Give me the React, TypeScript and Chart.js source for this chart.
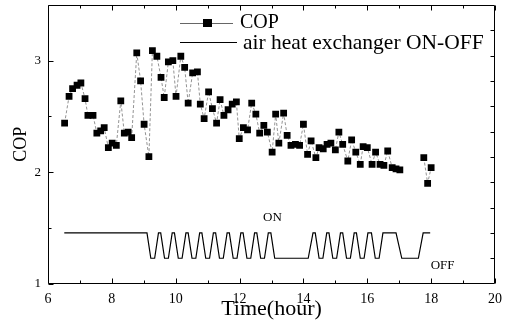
import { useEffect, useRef } from 'react';
import { Chart, registerables } from 'chart.js';

Chart.register(...registerables);

// COP measurements (time in hours, COP value); null marks the gap in the record
const copTime = [
  6.52, 6.66, 6.77, 6.91, 7.03, 7.16, 7.25, 7.41, 7.53, 7.65,
  7.76, 7.89, 8.01, 8.14, 8.28, 8.39, 8.51, 8.62, 8.78, 8.9,
  9.01, 9.16, 9.27, 9.41, 9.54, 9.64, 9.77, 9.91, 10.01, 10.16,
  10.28, 10.39, 10.53, 10.68, 10.77, 10.89, 11.03, 11.15, 11.28, 11.39,
  11.51, 11.64, 11.77, 11.9, 11.99, 12.12, 12.25, 12.38, 12.51, 12.63,
  12.76, 12.87, 13.02, 13.13, 13.23, 13.38, 13.49, 13.61, 13.75, 13.88,
  14.0, 14.13, 14.24, 14.39, 14.49, 14.62, 14.74, 14.86, 15.0, 15.11,
  15.23, 15.39, 15.51, 15.64, 15.78, 15.87, 16.0, 16.15, 16.26, 16.4,
  16.52, 16.64, 16.78, 16.9, 17.02,
  17.4,
  17.77, 17.89, 18.0,
];
const copValue: (number | null)[] = [
  2.44, 2.68, 2.75, 2.78, 2.8, 2.66, 2.51, 2.51, 2.35, 2.37,
  2.4, 2.22, 2.26, 2.24, 2.64, 2.35, 2.36, 2.31, 3.07, 2.82,
  2.43, 2.14, 3.09, 3.04, 2.85, 2.67, 2.99, 3.0, 2.68, 3.04,
  2.94, 2.62, 2.89, 2.9, 2.61, 2.48, 2.72, 2.57, 2.44, 2.65,
  2.51, 2.56, 2.61, 2.63, 2.3, 2.4, 2.38, 2.62, 2.52, 2.35,
  2.42, 2.36, 2.18, 2.52, 2.26, 2.53, 2.33, 2.24, 2.25, 2.24,
  2.43, 2.16, 2.28, 2.13, 2.22, 2.21, 2.25, 2.26, 2.2, 2.36,
  2.25, 2.1, 2.29, 2.18, 2.07, 2.23, 2.22, 2.07, 2.18, 2.07,
  2.06, 2.19, 2.04, 2.03, 2.02,
  null,
  2.13, 1.9, 2.04,
];

// Air heat exchanger state (1 = ON, 0 = OFF)
const switchTime = [
  6.51, 9.1, 9.22, 9.34, 9.46, 9.53, 9.65, 9.77, 9.89, 9.96,
  10.08, 10.2, 10.32, 10.39, 10.51, 10.63, 10.75, 10.82, 10.94, 11.06,
  11.18, 11.25, 11.37, 11.49, 11.61, 11.68, 11.8, 11.92, 12.04, 12.11,
  12.23, 12.35, 12.47, 12.54, 12.66, 12.78, 12.9, 12.98, 13.1, 14.15,
  14.3, 14.37, 14.49, 14.61, 14.73, 14.8, 14.92, 15.04, 15.16, 15.23,
  15.35, 15.47, 15.59, 15.66, 15.78, 15.9, 16.02, 16.13, 16.25, 16.37,
  16.49, 16.9, 17.08, 17.6, 17.75, 17.97,
];
const switchState = [
  1, 1, 0, 0, 1, 1, 0, 0, 1, 1,
  0, 0, 1, 1, 0, 0, 1, 1, 0, 0,
  1, 1, 0, 0, 1, 1, 0, 0, 1, 1,
  0, 0, 1, 1, 0, 0, 1, 1, 0, 0,
  1, 1, 0, 0, 1, 1, 0, 0, 1, 1,
  0, 0, 1, 1, 0, 0, 1, 1, 0, 0,
  1, 1, 0, 0, 1, 1,
];

const xTickValues = [6, 8, 10, 12, 14, 16, 18, 20];
const xMinorValues = [7, 9, 11, 13, 15, 17, 19];
const yTickValues = [1, 2, 3];
const yMinorValues = [1.5, 2.5];
const y2TickValues = [0, 1, 2, 3, 4, 5, 6, 7, 8, 9];
const legendLabels = ['COP', 'air heat exchanger ON-OFF'];
const stateLabels = ['ON', 'OFF'];

const SERIF = "'Liberation Serif', 'Times New Roman', serif";

export default function App() {
  const ref = useRef<HTMLCanvasElement>(null);

  useEffect(() => {
    if (!ref.current) return;

    const decorPlugin = {
      id: 'decor',
      afterDraw(chart: any) {
        const { ctx, chartArea: a, scales } = chart;
        const L = Math.round(a.left) + 0.5;
        const R = Math.round(a.right) - 0.5;
        const T = Math.round(a.top) + 0.5;
        const B = Math.round(a.bottom) - 0.5;
        ctx.save();
        ctx.strokeStyle = '#000';
        ctx.lineWidth = 1;
        ctx.beginPath();
        ctx.rect(L, T, R - L, B - T);
        // x ticks (bottom and top), inward
        const xt = (v: number, len: number) => {
          const px = Math.round(scales.x.getPixelForValue(v)) + 0.5;
          ctx.moveTo(px, B);
          ctx.lineTo(px, B - len);
          ctx.moveTo(px, T);
          ctx.lineTo(px, T + len);
        };
        xTickValues.forEach((v) => xt(v, 5));
        xMinorValues.forEach((v) => xt(v, 3));
        // y ticks (left), inward
        const yt = (v: number, len: number) => {
          const py = Math.round(scales.y.getPixelForValue(v)) + 0.5;
          ctx.moveTo(L, py);
          ctx.lineTo(L + len, py);
        };
        yTickValues.forEach((v) => yt(v, 5));
        yMinorValues.forEach((v) => yt(v, 3));
        // right axis ticks (switch state axis)
        y2TickValues.forEach((v) => {
          const py = Math.round(scales.y2.getPixelForValue(v)) + 0.5;
          ctx.moveTo(R, py);
          ctx.lineTo(R - 4, py);
        });
        ctx.stroke();

        // ON / OFF annotations
        ctx.fillStyle = '#000';
        ctx.font = `13px ${SERIF}`;
        ctx.textAlign = 'center';
        ctx.textBaseline = 'middle';
        ctx.fillText(stateLabels[0], scales.x.getPixelForValue(13.03), scales.y2.getPixelForValue(1.62));
        ctx.fillText(stateLabels[1], scales.x.getPixelForValue(18.36), scales.y2.getPixelForValue(-0.3));

        // legend
        const lx = a.left + 132;
        const ly1 = a.top + 18;
        const ly2 = a.top + 37;
        ctx.lineWidth = 1;
        ctx.strokeStyle = '#666';
        ctx.beginPath();
        ctx.moveTo(lx, Math.round(ly1) + 0.5);
        ctx.lineTo(lx + 53, Math.round(ly1) + 0.5);
        ctx.stroke();
        ctx.fillRect(lx + 23, ly1 - 4, 9, 8);
        ctx.strokeStyle = '#000';
        ctx.beginPath();
        ctx.moveTo(lx, Math.round(ly2) + 0.5);
        ctx.lineTo(lx + 57, Math.round(ly2) + 0.5);
        ctx.stroke();
        ctx.textAlign = 'left';
        ctx.textBaseline = 'alphabetic';
        ctx.font = `20px ${SERIF}`;
        ctx.fillText(legendLabels[0], lx + 60, a.top + 23);
        ctx.font = `21.5px ${SERIF}`;
        ctx.fillText(legendLabels[1], lx + 63, a.top + 44);
        ctx.restore();
      },
    };

    const chart = new Chart(ref.current, {
      type: 'line',
      data: {
        datasets: [
          {
            label: legendLabels[0],
            data: copTime.map((t, i) => ({ x: t, y: copValue[i] })) as any,
            yAxisID: 'y',
            borderColor: '#777',
            borderWidth: 0.8,
            borderDash: [3, 2],
            pointStyle: 'rect',
            pointRadius: 4.8,
            pointBackgroundColor: '#000',
            pointBorderWidth: 0,
            spanGaps: false,
            tension: 0,
          },
          {
            label: legendLabels[1],
            data: switchTime.map((t, i) => ({ x: t, y: switchState[i] })),
            yAxisID: 'y2',
            borderColor: '#000',
            borderWidth: 1.2,
            pointRadius: 0,
            tension: 0,
          },
        ],
      },
      options: {
        animation: false,
        responsive: true,
        maintainAspectRatio: false,
        layout: { padding: { top: 5, right: 16, left: 0, bottom: 0 } },
        plugins: {
          legend: { display: false },
          tooltip: { enabled: false },
        },
        scales: {
          x: {
            type: 'linear',
            min: 6,
            max: 20,
            afterBuildTicks: (s: any) => {
              s.ticks = xTickValues.map((v) => ({ value: v }));
            },
            afterFit: (s: any) => {
              s.height = 42.4;
              s.paddingLeft = 0;
              s.paddingRight = 0;
            },
            grid: { display: false, drawTicks: false },
            border: { display: false },
            ticks: {
              font: { family: SERIF, size: 14 },
              color: '#000',
              padding: 7,
              maxRotation: 0,
              autoSkip: false,
            },
            title: {
              display: true,
              text: 'Time(hour)',
              font: { family: SERIF, size: 22 },
              color: '#000',
              padding: { top: 0, bottom: 4 },
            },
          },
          y: {
            type: 'linear',
            min: 1,
            max: 3.5,
            afterBuildTicks: (s: any) => {
              s.ticks = yTickValues.map((v) => ({ value: v }));
            },
            afterFit: (s: any) => {
              s.width = 48;
              s.paddingTop = 0;
              s.paddingBottom = 0;
            },
            grid: { display: false, drawTicks: false },
            border: { display: false },
            ticks: {
              font: { family: SERIF, size: 13 },
              color: '#000',
              padding: 7,
            },
            title: {
              display: true,
              text: 'COP',
              font: { family: SERIF, size: 18 },
              color: '#000',
              padding: { top: 10, bottom: 0 },
            },
          },
          y2: {
            type: 'linear',
            position: 'right',
            display: false,
            min: -1,
            max: 10,
          },
        },
      },
      plugins: [decorPlugin],
    });

    return () => chart.destroy();
  }, []);

  return (
    <div style={{ position: 'fixed', left: 0, top: 0, width: 511, height: 326, background: '#fff' }}>
      <canvas ref={ref} />
    </div>
  );
}
